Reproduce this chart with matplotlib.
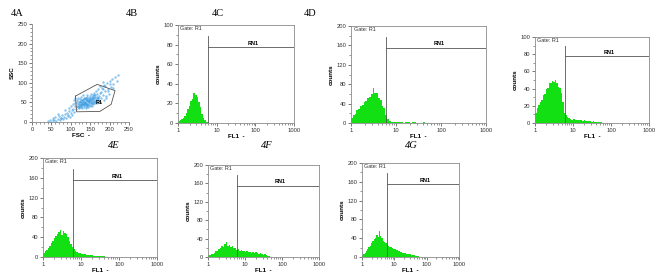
import matplotlib
matplotlib.use('Agg')
import matplotlib.pyplot as plt
import numpy as np

plt.rcParams['font.family'] = 'Liberation Sans'

fsc = [42, 46, 50, 53, 57, 60, 63, 66, 70, 72, 75, 78, 80, 83, 86, 88, 90, 93, 95, 97,
       100, 102, 104, 106, 108,
       110, 112, 113, 115, 116, 118, 119, 120, 121, 122, 123, 124, 125, 126, 127, 128,
       129, 130, 131, 132, 133, 134, 135, 136, 137, 138, 139, 140, 141, 142, 143, 144,
       145, 146, 147, 148, 149, 150, 151, 152, 153, 154, 155, 156, 157, 158, 159, 160,
       161, 162, 163, 164, 165, 166, 167, 168, 169, 170, 171, 172, 174, 175,
       118, 124, 128, 132, 135, 138, 141, 144, 146, 150, 153, 156, 130, 136, 142, 148,
       152, 158, 126, 134,
       120, 123, 127, 131, 134, 137, 140, 143, 147, 151, 155, 159, 162, 165, 168, 171,
       117, 121, 125, 129, 133, 139, 145, 149, 154, 160, 164, 138, 143, 157,
       178, 180, 183, 185, 188, 190, 193, 195, 198, 200, 203, 206, 210, 214, 218, 222,
       176, 182, 186, 192, 179, 184, 189, 196, 201, 208,
       105, 108, 112, 100, 96, 92, 85, 76, 68, 55]
ssc = [2, 6, 1, 9, 4, 12, 3, 8, 15, 5, 11, 18, 7, 14, 20, 10, 24, 16, 28, 12,
       22, 30, 18, 34, 26,
       40, 48, 33, 55, 42, 38, 60, 46, 52, 35, 44, 58, 40, 50, 63, 47,
       36, 55, 43, 68, 50, 39, 58, 45, 52, 62, 41, 49, 56, 70, 47, 53,
       38, 60, 51, 44, 66, 55, 48, 59, 72, 42, 52, 64, 57, 46, 75, 54,
       61, 49, 68, 58, 80, 52, 63, 71, 56, 85, 60, 66, 50, 74,
       45, 50, 55, 48, 52, 47, 53, 58, 50, 62, 55, 48, 46, 60, 44, 57,
       50, 60, 43, 47,
       41, 53, 38, 57, 44, 49, 59, 42, 54, 46, 58, 51, 63, 55, 48, 62,
       50, 37, 47, 52, 61, 55, 45, 40, 65, 68, 53, 35, 64, 70,
       62, 88, 70, 95, 78, 60, 100, 84, 72, 105, 90, 110, 98, 115, 105, 120,
       92, 102, 55, 66, 76, 85, 92, 80, 96, 88,
       45, 55, 62, 40, 35, 18, 30, 9, 20, 6]

# gate R1 polygon (FSC, SSC)
gate_fsc = [112, 168, 214, 204, 175, 115, 112]
gate_ssc = [66, 96, 80, 45, 27, 26, 66]

# FL1 histograms: counts per channel, channels 0.04 decade wide starting at FL1 = 1
hist_c = [2, 3, 4, 5, 7, 10, 14, 17, 22, 25, 31, 29, 27, 21, 16, 9, 5, 3, 1, 1] + [0] * 30
hist_d = [10, 16, 19, 26, 29, 35, 38, 44, 46, 52, 54, 60, 72, 62, 61, 51, 47, 36, 30, 16,
          8, 4, 3, 2, 3, 2, 2, 2, 3, 1, 2, 2, 2, 1, 2, 2, 1, 1, 1, 1,
          2, 1, 1, 1, 1, 1, 0, 1, 0, 0]
hist_h = [12, 17, 21, 24, 27, 32, 34, 39, 41, 46, 47, 49, 48, 50, 47, 42, 41, 35, 24, 12,
          9, 7, 6, 5, 4, 5, 4, 3, 4, 3, 3, 2, 3, 2, 2, 2, 2, 1, 2, 1,
          1, 1, 1, 1, 0, 0, 0, 0, 0, 0]
hist_e = [9, 12, 15, 19, 23, 28, 33, 38, 42, 46, 50, 54, 45, 52, 49, 46, 41, 33, 27, 21,
          17, 13, 11, 9, 8, 7, 6, 6, 5, 5, 4, 4, 4, 3, 3, 3, 3, 2, 2, 2,
          2, 1, 1, 1, 1, 1, 1, 0, 0, 0]
hist_f = [5, 4, 6, 7, 9, 12, 13, 17, 19, 24, 22, 28, 33, 25, 27, 22, 23, 19, 20, 16,
          17, 13, 15, 12, 13, 11, 12, 10, 11, 9, 11, 8, 10, 8, 7, 8, 6, 5, 6, 4,
          3, 2, 1, 1, 1, 0, 0, 0, 0, 0]
hist_g = [4, 6, 8, 12, 16, 21, 24, 30, 33, 38, 40, 46, 43, 56, 45, 41, 35, 32, 29, 26,
          24, 22, 21, 19, 18, 17, 15, 14, 13, 11, 10, 9, 9, 8, 7, 7, 6, 6, 5, 4,
          4, 3, 2, 2, 1, 1, 1, 0, 0, 0]

channel_width = 0.04  # decades
rn1_start = 6
rn1_end = 1000

green = '#12e012'
grey = '#8a8a8a'
dark = '#444444'

fig = plt.figure(figsize=(6.69, 2.74), dpi=100)


def px_axes(left, top, right, bottom):
    W, H = 669, 274
    return fig.add_axes([left / W, 1 - bottom / H, (right - left) / W, (bottom - top) / H])


def style_ticks(ax):
    ax.tick_params(which='major', labelsize=4.2, length=2, width=0.5, pad=1.5,
                   colors=dark, labelcolor='#333333')
    ax.tick_params(which='minor', length=1.2, width=0.4, colors=dark)


# panel 4A scatter
ax = px_axes(32, 24, 129, 122)
ax.scatter(fsc, ssc, s=3, color='#3c9de2', alpha=0.6, linewidths=0)
ax.plot(gate_fsc, gate_ssc, color='#555555', lw=0.6)
ax.text(172, 51, 'R1', fontsize=4, fontweight='bold', ha='center', va='center')
ax.set_xlim(0, 250)
ax.set_ylim(0, 250)
ax.set_xticks([0, 50, 100, 150, 200, 250])
ax.set_yticks([0, 50, 100, 150, 200, 250])
ax.set_xticks(np.arange(0, 251, 10), minor=True)
ax.set_yticks(np.arange(0, 251, 10), minor=True)
for s in ['top', 'right']:
    ax.spines[s].set_visible(False)
for s in ['left', 'bottom']:
    ax.spines[s].set_color(grey)
    ax.spines[s].set_linewidth(0.6)
style_ticks(ax)
ax.set_xlabel('FSC  -', fontsize=4.5, fontweight='bold', labelpad=1)
ax.set_ylabel('SSC', fontsize=4.5, fontweight='bold', labelpad=2)


def histogram_panel(box, counts, ymax):
    ax = px_axes(*box)
    edges = 10 ** (channel_width * np.arange(len(counts) + 1))
    ax.stairs(counts, edges, fill=True, color=green, lw=0)
    ax.set_xscale('log')
    ax.set_xlim(1, 1000)
    ax.set_ylim(0, ymax)
    step = ymax // 5
    ax.set_yticks(np.arange(0, ymax + 1, step))
    ax.set_yticks(np.arange(0, ymax + 1, step / 2), minor=True)
    ax.set_xticks([1, 10, 100, 1000])
    ax.set_xticklabels(['1', '10', '100', '1000'])
    for s in ax.spines.values():
        s.set_color(grey)
        s.set_linewidth(0.6)
    style_ticks(ax)
    top = 0.89 * ymax
    level = 0.775 * ymax
    ax.plot([rn1_start, rn1_start], [0, top], color='#555555', lw=0.6)
    ax.plot([rn1_end, rn1_end], [0, top], color='#555555', lw=0.6)
    ax.plot([rn1_start, rn1_end], [level, level], color='#555555', lw=0.6)
    ax.text(90, level + 0.015 * ymax, 'RN1', fontsize=4, fontweight='bold',
            ha='center', va='bottom')
    ax.text(0.02, 0.985, 'Gate: R1', fontsize=4, ha='left', va='top',
            transform=ax.transAxes, color='#333333')
    ax.set_xlabel('FL1  -', fontsize=4.5, fontweight='bold', labelpad=0.5)
    ax.set_ylabel('counts', fontsize=4.5, fontweight='bold', labelpad=2)
    return ax


histogram_panel((178, 25, 294, 123), hist_c, 100)
histogram_panel((351, 26, 486, 123), hist_d, 200)
histogram_panel((535, 37, 649, 123), hist_h, 100)
histogram_panel((43, 158, 157, 257), hist_e, 200)
histogram_panel((208, 165, 319, 257), hist_f, 200)
histogram_panel((362, 163, 459, 257), hist_g, 200)

# panel labels
labels = [('4A', 17, 13, 'normal'), ('4B', 132, 13, 'normal'), ('4C', 218, 13, 'normal'),
          ('4D', 310, 13, 'normal'), ('4E', 114, 146, 'italic'),
          ('4F', 267, 146, 'italic'), ('4G', 411, 146, 'italic')]
for text, x, y, style in labels:
    fig.text(x / 669, 1 - y / 274, text, fontsize=7.5, family='Liberation Serif',
             style=style, ha='center', va='center')

fig.savefig('out.png', dpi=100)
